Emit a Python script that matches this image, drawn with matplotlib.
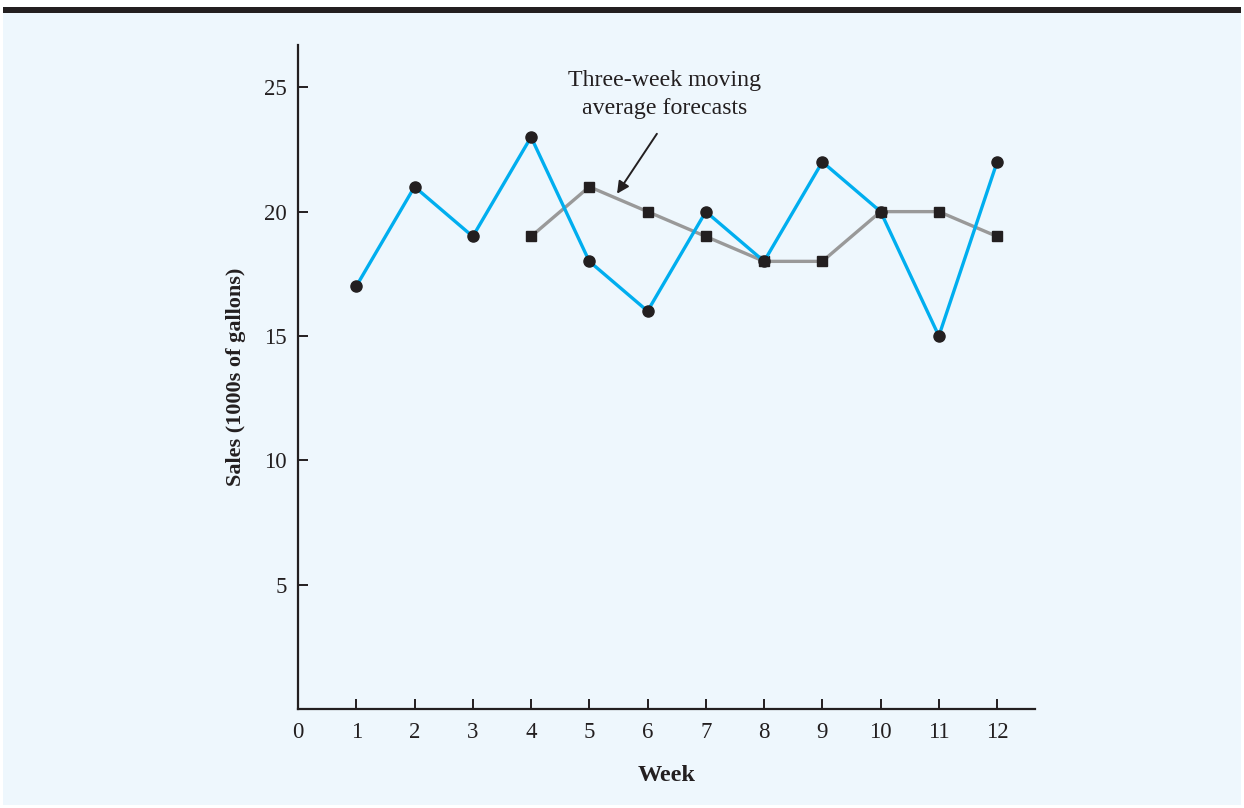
import matplotlib
matplotlib.use("Agg")
import matplotlib.pyplot as plt
from matplotlib.patches import Rectangle

weeks = [1, 2, 3, 4, 5, 6, 7, 8, 9, 10, 11, 12]
sales = [17, 21, 19, 23, 18, 16, 20, 18, 22, 20, 15, 22]
forecast_weeks = [4, 5, 6, 7, 8, 9, 10, 11, 12]
forecasts = [19, 21, 20, 19, 18, 18, 20, 20, 19]
xticks = list(range(0, 13))
yticks = [5, 10, 15, 20, 25]

plt.rcParams['font.family'] = ['Liberation Serif', 'DejaVu Serif']
dark = '#231f20'
bg = '#eef7fd'

fig = plt.figure(figsize=(12.44, 8.08), dpi=100)
fig.patch.set_facecolor('white')
fig.patches.append(Rectangle((3/1244, 1-805/808), 1238/1244, (805-13)/808,
                             transform=fig.transFigure, facecolor=bg, edgecolor='none', zorder=-10))
fig.patches.append(Rectangle((3/1244, 1-13/808), 1238/1244, 6/808,
                             transform=fig.transFigure, facecolor=dark, edgecolor='none', zorder=-10))

ax = fig.add_axes([298/1244, 1-709/808, (1035-298)/1244, (709-45)/808])
ax.set_facecolor('none')
ax.set_zorder(5)

ax.plot(weeks, sales, color='#00aeef', lw=2.4, marker='o', ms=8,
        mfc=dark, mec=dark, zorder=3)
ax.plot(forecast_weeks, forecasts, color='#999999', lw=2.4, marker='s', ms=7.5,
        mfc=dark, mec=dark, zorder=2)

ax.set_xlim(0, 12.65)
ax.set_ylim(0, 26.7)
ax.set_xticks(xticks)
ax.set_yticks(yticks)
for s in ['top', 'right']:
    ax.spines[s].set_visible(False)
for s in ['left', 'bottom']:
    ax.spines[s].set_color(dark)
    ax.spines[s].set_linewidth(1.6)
ax.tick_params(direction='in', length=7, width=1.4, color=dark,
               labelsize=16.5, labelcolor=dark)
ax.tick_params(axis='x', pad=9)
ax.tick_params(axis='y', pad=8)

ax.set_xlabel('Week', fontsize=17.5, fontweight='bold', color=dark, labelpad=16)
ax.set_ylabel('Sales (1000s of gallons)', fontsize=16, fontweight='bold', color=dark, labelpad=13)

ax.text(6.3, 24.7, 'Three-week moving\naverage forecasts', ha='center', va='center',
        fontsize=17.2, color=dark, linespacing=1.45)
ax.annotate('', xy=(5.476, 20.72), xytext=(6.16, 23.13),
            arrowprops=dict(arrowstyle='-|>', color=dark, lw=1.4, mutation_scale=18,
                            shrinkA=0, shrinkB=0))

fig.savefig('out.png', dpi=100, facecolor='white')
